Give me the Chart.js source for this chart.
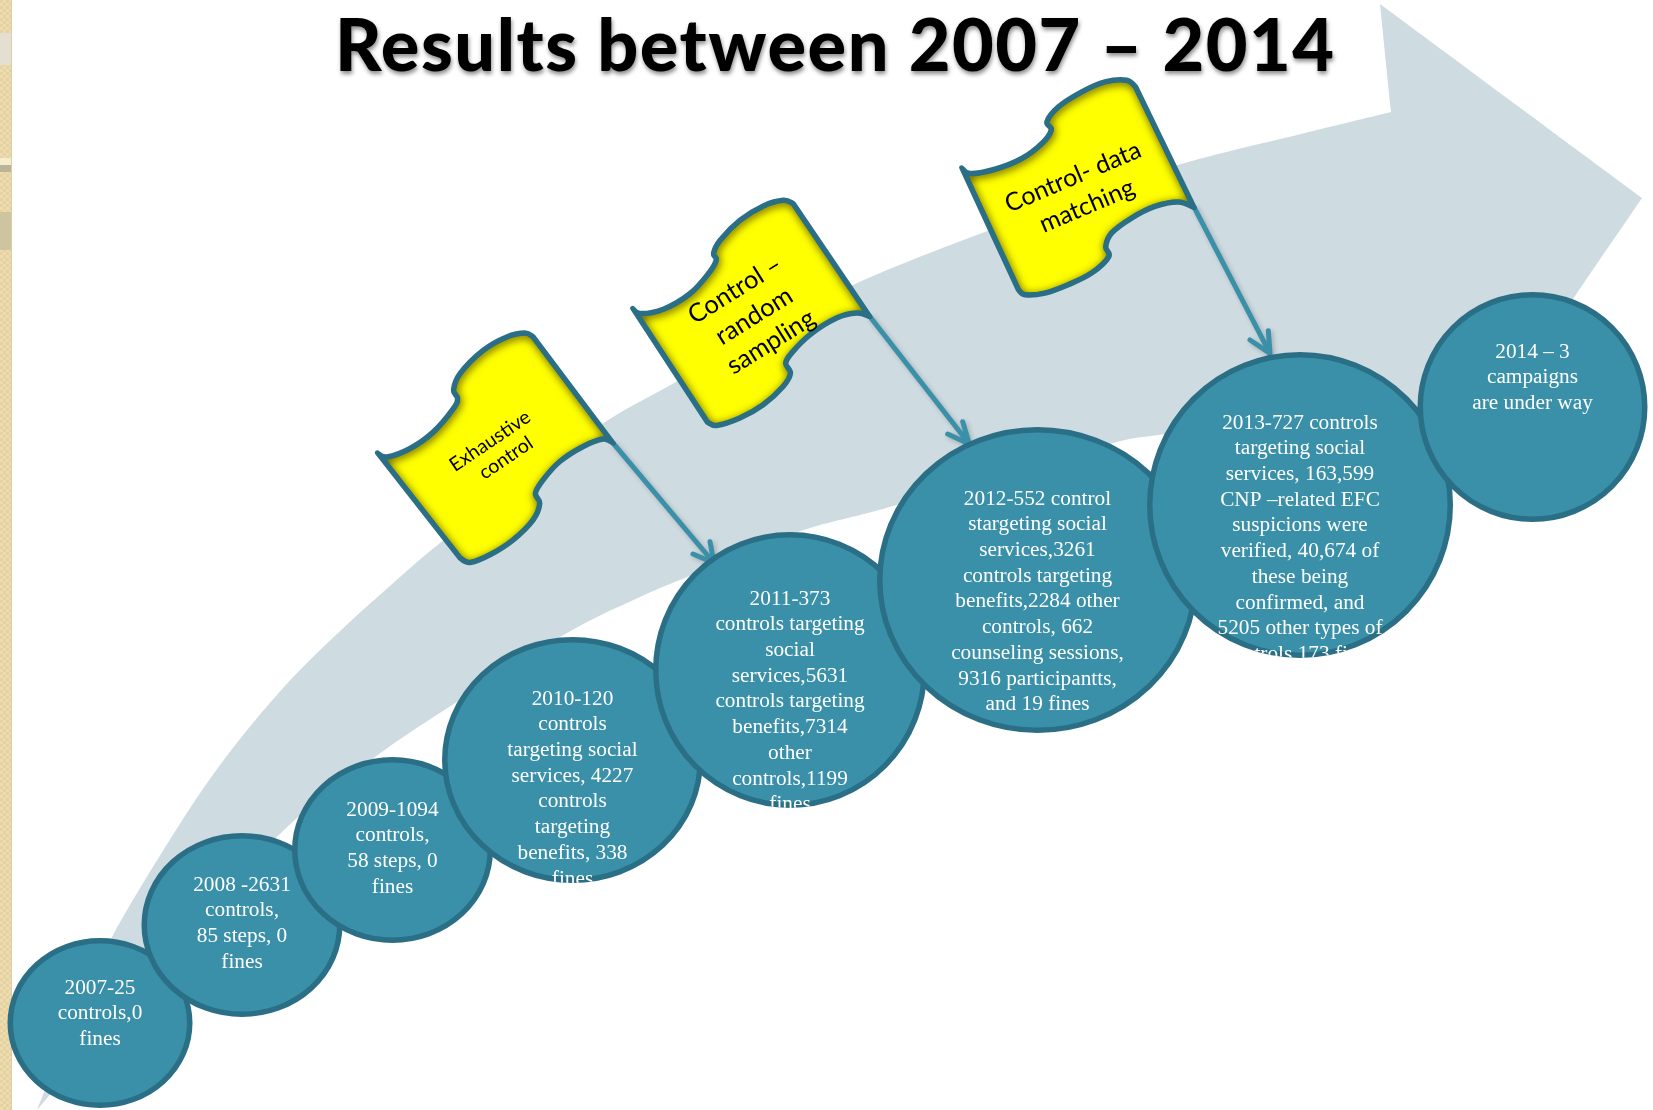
<!DOCTYPE html>
<html>
<head>
<meta charset="utf-8">
<title>Results between 2007 – 2014</title>
<script src="https://cdn.jsdelivr.net/npm/chart.js@4"></script>
<style>
  html, body { margin: 0; padding: 0; background: #fff; }
  canvas { display: block; }
</style>
</head>
<body>
<canvas id="roadmap" width="1653" height="1110"></canvas>
<script>
// Horizontal and vertical extents of the drawing space
const extentX = [0, 1653];
const extentY = [1110, 0];

const titleText = 'Results between 2007 – 2014';

// Years, in the order they climb the arrow
const years = ['2007', '2008', '2009', '2010', '2011', '2012', '2013', '2014'];
const yearX = [100, 242, 392.5, 572.5, 790, 1037.5, 1300, 1532.5];
const yearY = [1023, 925, 850, 760, 670, 580, 505, 407];
const yearRx = [92.5, 100.5, 100.5, 130.5, 137, 160.5, 153, 115];
const yearRy = [85, 92, 93, 123, 138, 153, 153, 115];
const yearFirstLineY = [988, 885, 810, 699, 599, 499, 423, 352];

const yearLines = [
  ['2007-25', 'controls,0', 'fines'],
  ['2008 -2631', 'controls,', '85 steps, 0', 'fines'],
  ['2009-1094', 'controls,', '58 steps, 0', 'fines'],
  ['2010-120', 'controls', 'targeting social', 'services, 4227', 'controls', 'targeting', 'benefits, 338', 'fines'],
  ['2011-373', 'controls targeting', 'social', 'services,5631', 'controls targeting', 'benefits,7314', 'other', 'controls,1199', 'fines'],
  ['2012-552 control', 'stargeting social', 'services,3261', 'controls targeting', 'benefits,2284 other', 'controls, 662', 'counseling sessions,', '9316 participantts,', 'and 19 fines'],
  ['2013-727 controls', 'targeting social', 'services, 163,599', 'CNP –related EFC', 'suspicions were', 'verified, 40,674 of', 'these being', 'confirmed, and', '5205 other types of', 'controls,173 fines'],
  ['2014 – 3', 'campaigns', 'are under way']
];

// Outline of the large background arrow
const arrowX = [37, 73, 112, 176, 226, 284, 337, 391, 440, 520, 605, 674, 760, 853, 945, 1060, 1178, 1305, 1391, 1380, 1642, 1575, 1510, 1430, 1300, 1165, 1113, 1000, 879, 798, 697, 640, 567, 460, 375, 284, 200, 110];
const arrowY = [1110, 1022, 937, 830, 757, 687, 634, 585, 543, 482, 422, 383, 332, 285, 247, 205, 165, 133, 112, 4, 198, 296, 392, 415, 415, 434, 443, 476, 510, 532, 573, 597, 633, 700, 757, 830, 925, 1025];
const arrowCorners = [0, 18, 19, 20, 22];

// Flag outlines
const flagNames = ['Exhaustive control', 'Control – random sampling', 'Control- data matching'];
const flagX = [
  [377.3, 386.7, 410, 433.3, 453.3, 457.3, 453.3, 460, 483.3, 506.7, 525, 533.3, 613.3, 603.3, 583.3, 560, 543.3, 535.7, 540, 533.3, 513.3, 490, 470, 460],
  [632.7, 640, 663.3, 690, 708.3, 716, 713.3, 720, 740, 763.3, 783.3, 793.3, 870, 856.7, 836.7, 810, 791.7, 786, 790.7, 783.3, 763.3, 740, 716.7, 707.3],
  [961.7, 970, 995, 1021.7, 1041.7, 1051, 1046.7, 1058.3, 1081.7, 1105, 1126.7, 1135.7, 1194.3, 1178.3, 1155, 1131.7, 1111.7, 1106, 1109, 1091.7, 1068.3, 1045, 1025, 1018.3]
];
const flagY = [
  [452.7, 456.7, 448.3, 431.7, 408.3, 398.3, 390, 373.3, 350, 336.7, 332.7, 336.7, 443.3, 439.3, 446.7, 461.7, 480, 493.3, 503.3, 520, 540, 555, 562.7, 558.3],
  [308.3, 313.3, 309, 293.3, 273.3, 260, 253.3, 240, 220, 205.7, 200, 203.3, 316.7, 313.3, 318.3, 335, 353.3, 363.3, 373.3, 386.7, 405, 418.3, 425.7, 422.3],
  [167.7, 173.3, 169, 158.3, 143.3, 130, 121.7, 106.7, 91.7, 81.7, 80, 86.7, 207.7, 202.3, 206.7, 218.3, 233.3, 246.7, 256.7, 273.3, 285, 293.3, 295, 290]
];
const flagCorners = [0, 11, 12, 23];

// Flag captions: line text, centre, font size and slant
const flagCaptions = [
  { lines: ['Exhaustive', 'control'], x: [490, 506], y: [441, 458], size: 19.5, angle: -34 },
  { lines: ['Control –', 'random', 'sampling'], x: [735, 754, 771], y: [290, 316, 342], size: 25.5, angle: -32 },
  { lines: ['Control- data', 'matching'], x: [1073, 1087], y: [177, 206], size: 25, angle: -23 }
];

// Poles running from each flag to the year it points at: start, tip, two barbs
const poleX = [[613.3, 714], [870, 969.3], [1194.3, 1270]];
const poleY = [[443.3, 563], [316.7, 444], [207.7, 353.3]];
const barbX = [[710, 693], [962.7, 947.7], [1268.3, 1250]];
const barbY = [[541.7, 554], [421.7, 434], [330.7, 340]];

const colours = {
  arrow: '#cedbe1',
  bubble: '#3a90a8',
  edge: '#2a6f85',
  flag: '#ffff00',
  pole: '#3a90a8'
};

function zip(xs, ys) { return xs.map((x, i) => ({ x, y: ys[i] })); }

// Traces a closed outline through element positions, smoothing between corners
function traceOutline(ctx, pts, corners) {
  const n = pts.length;
  const isCorner = i => corners.includes(i);
  ctx.beginPath();
  ctx.moveTo(pts[0].x, pts[0].y);
  for (let i = 0; i < n; i++) {
    const a = pts[i], b = pts[(i + 1) % n];
    const prev = isCorner(i) ? a : pts[(i - 1 + n) % n];
    const next = isCorner((i + 1) % n) ? b : pts[(i + 2) % n];
    ctx.bezierCurveTo(
      a.x + (b.x - prev.x) / 6, a.y + (b.y - prev.y) / 6,
      b.x - (next.x - a.x) / 6, b.y - (next.y - a.y) / 6,
      b.x, b.y
    );
  }
  ctx.closePath();
}

const painters = {
  arrow(ctx, chart, meta, ds) {
    traceOutline(ctx, meta.data, ds.corners);
    ctx.fillStyle = colours.arrow;
    ctx.fill();
  },
  pole(ctx, chart, meta, ds) {
    const [start, tip, b1, b2] = meta.data;
    ctx.lineCap = 'round';
    ctx.lineJoin = 'round';
    ctx.strokeStyle = colours.pole;
    ctx.lineWidth = 5;
    ctx.shadowColor = 'rgba(0,0,0,0.22)';
    ctx.shadowBlur = 5;
    ctx.shadowOffsetX = 2;
    ctx.shadowOffsetY = 2;
    ctx.beginPath();
    ctx.moveTo(start.x, start.y);
    ctx.lineTo(tip.x, tip.y);
    ctx.moveTo(b1.x, b1.y);
    ctx.lineTo(tip.x, tip.y);
    ctx.lineTo(b2.x, b2.y);
    ctx.stroke();
  },
  flag(ctx, chart, meta, ds) {
    traceOutline(ctx, meta.data, ds.corners);
    ctx.fillStyle = colours.flag;
    ctx.fill();
    ctx.save();
    ctx.clip();
    ctx.shadowColor = 'rgba(50,40,0,0.85)';
    ctx.shadowBlur = 9;
    ctx.shadowOffsetX = 1;
    ctx.shadowOffsetY = 2;
    ctx.lineWidth = 6;
    ctx.strokeStyle = colours.edge;
    ctx.stroke();
    ctx.restore();
    ctx.lineWidth = 5;
    ctx.lineJoin = 'round';
    ctx.lineCap = 'round';
    ctx.strokeStyle = colours.edge;
    ctx.stroke();

    const cap = ds.caption;
    ctx.fillStyle = '#000';
    ctx.font = cap.size + 'px Lato';
    ctx.textAlign = 'center';
    ctx.textBaseline = 'middle';
    cap.lines.forEach((line, i) => {
      ctx.save();
      ctx.translate(chart.scales.x.getPixelForValue(cap.x[i]), chart.scales.y.getPixelForValue(cap.y[i]));
      ctx.rotate(cap.angle * Math.PI / 180);
      ctx.fillText(line, 0, 0);
      ctx.restore();
    });
  },
  year(ctx, chart, meta, ds) {
    const c = meta.data[0];
    const sx = chart.scales.x, sy = chart.scales.y;
    const rx = Math.abs(sx.getPixelForValue(ds.rx) - sx.getPixelForValue(0));
    const ry = Math.abs(sy.getPixelForValue(ds.ry) - sy.getPixelForValue(0));
    const inset = 2.75;
    ctx.beginPath();
    ctx.ellipse(c.x, c.y, rx - inset, ry - inset, 0, 0, Math.PI * 2);
    ctx.fillStyle = colours.bubble;
    ctx.fill();
    ctx.lineWidth = 5.5;
    ctx.strokeStyle = colours.edge;
    ctx.stroke();

    // The text box overflows on the longest entries, so it is cut off at the rim
    ctx.beginPath();
    ctx.ellipse(c.x, c.y, rx, ry, 0, 0, Math.PI * 2);
    ctx.clip();
    ctx.fillStyle = '#fff';
    ctx.font = '21.3px "Liberation Serif"';
    ctx.textAlign = 'center';
    ctx.textBaseline = 'middle';
    ds.lines.forEach((line, i) => {
      ctx.fillText(line, c.x, sy.getPixelForValue(ds.firstLine + i * 25.7));
    });
  }
};

// Each dataset is painted from its own scaled elements
const shapePainter = {
  id: 'shapePainter',
  beforeDraw(chart) {
    // Parchment border along the left edge of the slide
    const ctx = chart.ctx;
    const h = chart.height;
    ctx.save();
    for (let y = 0; y < h; y += 3) {
      for (let x = 0; x < 12; x += 3) {
        ctx.fillStyle = (x + y) % 2 ? '#efdcae' : '#e5d2a2';
        ctx.fillRect(x, y, 3, 3);
      }
    }
    ctx.fillStyle = '#e4dfd0'; ctx.fillRect(0, 33, 12, 32);
    ctx.fillStyle = '#f6eccd'; ctx.fillRect(0, 158, 12, 7);
    ctx.fillStyle = '#bcb498'; ctx.fillRect(0, 165, 12, 7);
    ctx.fillStyle = '#cfc4a0'; ctx.fillRect(0, 212, 12, 38);
    ctx.fillStyle = '#d8cfa9'; ctx.fillRect(11, 0, 1, h);
    ctx.restore();
  },
  beforeDatasetDraw(chart, args) {
    const ds = chart.data.datasets[args.index];
    const ctx = chart.ctx;
    ctx.save();
    painters[ds.painter](ctx, chart, args.meta, ds);
    ctx.restore();
    return false;
  },
  afterDraw(chart) {
    const ctx = chart.ctx;
    ctx.save();
    ctx.font = '900 72px Lato';
    ctx.textAlign = 'left';
    ctx.textBaseline = 'alphabetic';
    // The heading runs to a fixed width across the slide
    const natural = ctx.measureText(titleText).width;
    ctx.letterSpacing = ((999 - natural) / (titleText.length - 1)).toFixed(2) + 'px';
    ctx.fillStyle = '#000';
    ctx.shadowColor = 'rgba(0,0,0,0.45)';
    ctx.shadowBlur = 4;
    ctx.shadowOffsetX = 1;
    ctx.shadowOffsetY = 3;
    ctx.fillText(titleText, 335, 71);
    ctx.restore();
  }
};

const datasets = [];
datasets.push({ painter: 'arrow', label: 'Progress arrow', data: zip(arrowX, arrowY), corners: arrowCorners });
poleX.forEach((px, i) => datasets.push({
  painter: 'pole',
  label: 'Pole ' + flagNames[i],
  data: zip([...px, ...barbX[i]], [...poleY[i], ...barbY[i]])
}));
flagNames.forEach((name, i) => datasets.push({
  painter: 'flag',
  label: name,
  data: zip(flagX[i], flagY[i]),
  corners: flagCorners,
  caption: flagCaptions[i]
}));
years.forEach((year, i) => datasets.push({
  painter: 'year',
  label: year,
  data: [{ x: yearX[i], y: yearY[i] }],
  rx: yearRx[i],
  ry: yearRy[i],
  firstLine: yearFirstLineY[i],
  lines: yearLines[i]
}));
// Later entries sit on top of earlier ones
datasets.forEach((ds, i) => { ds.order = datasets.length - i; ds.clip = false; });

new Chart(document.getElementById('roadmap'), {
  type: 'scatter',
  data: { datasets },
  plugins: [shapePainter],
  options: {
    responsive: false,
    animation: false,
    events: [],
    layout: { padding: 0, autoPadding: false },
    plugins: { legend: { display: false }, tooltip: { enabled: false } },
    scales: {
      x: { type: 'linear', display: false, min: extentX[0], max: extentX[1] },
      y: { type: 'linear', display: false, min: extentY[1], max: extentY[0], reverse: true }
    }
  }
});
</script>
</body>
</html>
